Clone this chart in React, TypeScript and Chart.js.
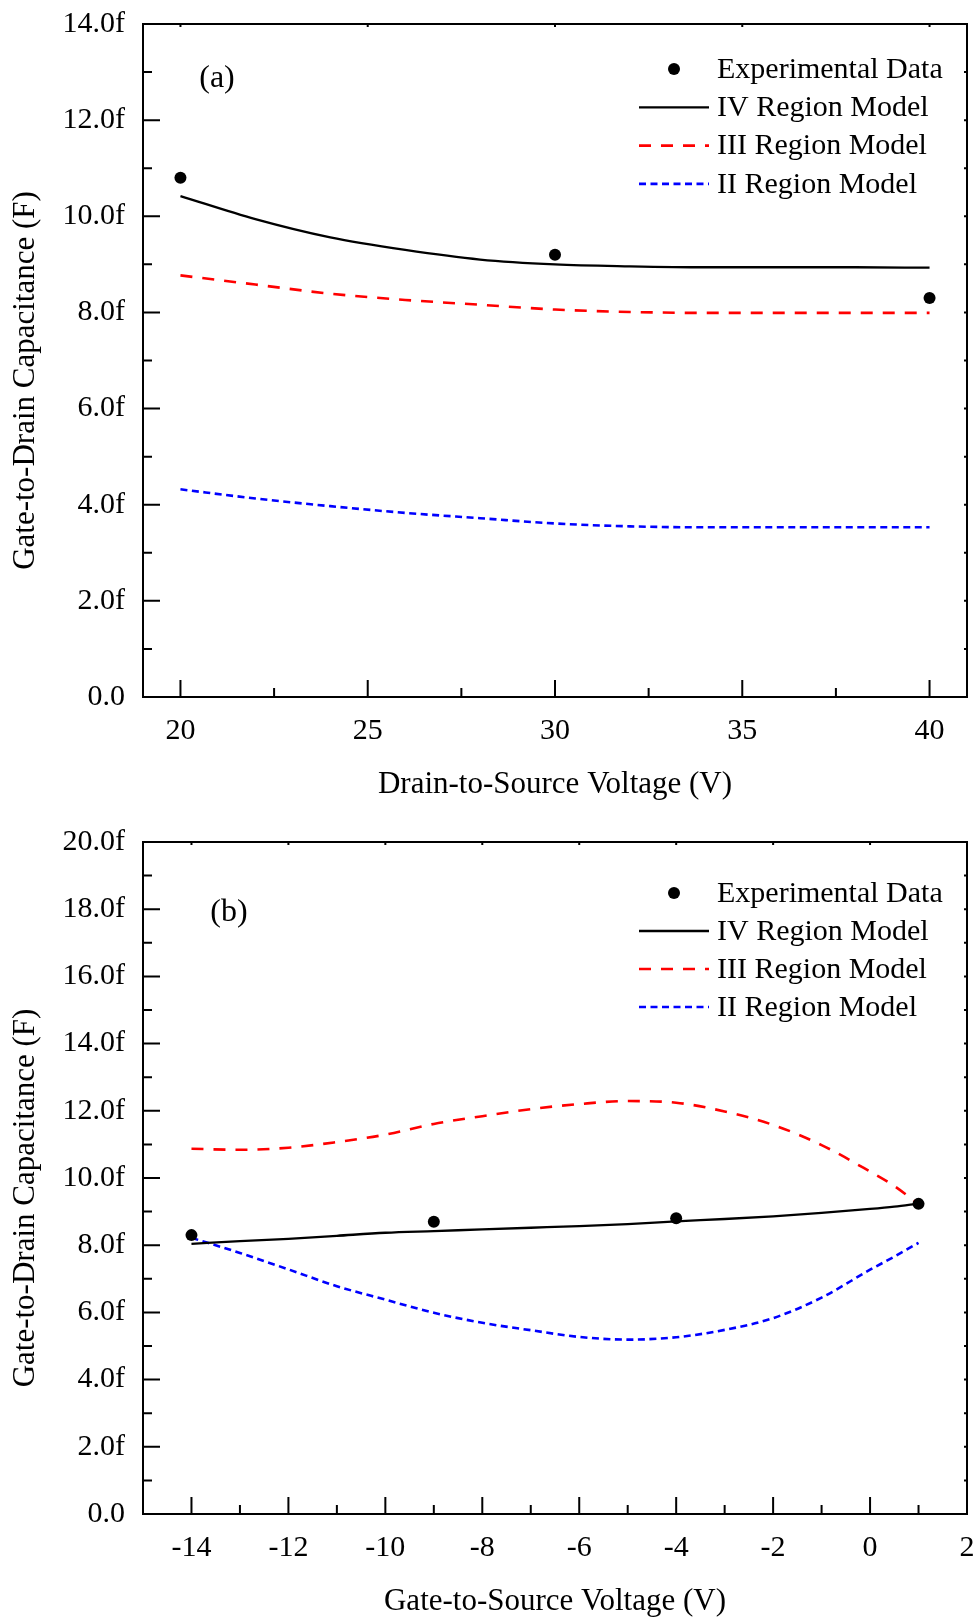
import React, { useEffect, useRef } from "react";
import { Chart, registerables } from "chart.js";

Chart.register(...registerables);

const FONT = '"Liberation Serif", "Times New Roman", Times, serif';

// ---------------- Panel (a): Cgd vs Vds ----------------
const A_VDS_EXP = [20, 30, 40];
const A_CGD_EXP = [10.8, 9.2, 8.3];
const A_VDS_MODEL = [20, 22, 24, 26, 28, 30, 32, 34, 36, 38, 40];
const A_CGD_IV = [10.42, 9.94, 9.56, 9.3, 9.1, 9.0, 8.96, 8.94, 8.94, 8.94, 8.93];
const A_CGD_III = [8.77, 8.58, 8.39, 8.26, 8.16, 8.06, 8.01, 7.99, 7.99, 7.99, 7.99];
const A_CGD_II = [4.32, 4.13, 3.97, 3.83, 3.72, 3.61, 3.55, 3.53, 3.53, 3.53, 3.53];
const A_X_TICKS = [20, 25, 30, 35, 40];
const A_X_MINOR = [22.5, 27.5, 32.5, 37.5];
const A_Y_TICKS = [0, 2, 4, 6, 8, 10, 12, 14];
const A_Y_LABELS = ["0.0", "2.0f", "4.0f", "6.0f", "8.0f", "10.0f", "12.0f", "14.0f"];
const A_Y_MINOR = [1, 3, 5, 7, 9, 11, 13];

// ---------------- Panel (b): Cgd vs Vgs ----------------
const B_VGS_EXP = [-14, -9, -4, 1];
const B_CGD_EXP = [8.3, 8.7, 8.8, 9.23];
const B_VGS_MODEL = [-14, -13, -12, -11, -10, -9, -8, -7, -6, -5, -4, -3, -2, -1, 0, 0.5, 1];
const B_CGD_IV = [8.04, 8.12, 8.19, 8.28, 8.37, 8.42, 8.47, 8.52, 8.57, 8.63, 8.71, 8.78, 8.86, 8.96, 9.08, 9.15, 9.24];
const B_CGD_III = [10.87, 10.84, 10.9, 11.07, 11.29, 11.61, 11.84, 12.05, 12.2, 12.29, 12.24, 11.98, 11.58, 10.98, 10.19, 9.76, 9.22];
const B_CGD_II = [8.22, 7.77, 7.28, 6.78, 6.38, 5.99, 5.69, 5.47, 5.27, 5.19, 5.26, 5.48, 5.83, 6.44, 7.27, 7.66, 8.07];
const B_X_TICKS = [-14, -12, -10, -8, -6, -4, -2, 0, 2];
const B_X_MINOR = [-15, -13, -11, -9, -7, -5, -3, -1, 1];
const B_Y_TICKS = [0, 2, 4, 6, 8, 10, 12, 14, 16, 18, 20];
const B_Y_LABELS = ["0.0", "2.0f", "4.0f", "6.0f", "8.0f", "10.0f", "12.0f", "14.0f", "16.0f", "18.0f", "20.0f"];
const B_Y_MINOR = [1, 3, 5, 7, 9, 11, 13, 15, 17, 19];

const SERIES_NAMES = ["Experimental Data", "IV Region Model", "III Region Model", "II Region Model"];

const zip = (xs: number[], ys: number[]) => xs.map((x, i) => ({ x, y: ys[i] }));

const framePlugin = {
  id: "frameDecor",
  afterDatasetsDraw(chart: any, _args: any, opts: any) {
    const { ctx, chartArea: a, scales } = chart;
    const xs = scales.x;
    const ys = scales.y;
    ctx.save();
    ctx.strokeStyle = "#000";
    ctx.lineWidth = 2;
    ctx.beginPath();
    const major = 17;
    const minor = 9;
    const mirror = 3;
    (opts.xMajor || []).forEach((v: number) => {
      const p = xs.getPixelForValue(v);
      ctx.moveTo(p, a.bottom);
      ctx.lineTo(p, a.bottom - major);
      ctx.moveTo(p, a.top);
      ctx.lineTo(p, a.top + mirror);
    });
    (opts.xMinor || []).forEach((v: number) => {
      const p = xs.getPixelForValue(v);
      ctx.moveTo(p, a.bottom);
      ctx.lineTo(p, a.bottom - minor);
    });
    (opts.yMajor || []).forEach((v: number) => {
      const p = ys.getPixelForValue(v);
      ctx.moveTo(a.left, p);
      ctx.lineTo(a.left + major, p);
      ctx.moveTo(a.right, p);
      ctx.lineTo(a.right - mirror, p);
    });
    (opts.yMinor || []).forEach((v: number) => {
      const p = ys.getPixelForValue(v);
      ctx.moveTo(a.left, p);
      ctx.lineTo(a.left + minor, p);
      ctx.moveTo(a.right, p);
      ctx.lineTo(a.right - mirror, p);
    });
    ctx.stroke();
    ctx.lineWidth = 2;
    ctx.strokeRect(a.left, a.top, a.right - a.left, a.bottom - a.top);

    // legend
    const lg = opts.legend;
    ctx.font = `30px ${FONT}`;
    ctx.fillStyle = "#000";
    ctx.textBaseline = "middle";
    ctx.textAlign = "left";
    chart.data.datasets.forEach((ds: any, i: number) => {
      const yy = a.top + lg.top + i * lg.gap;
      if (ds.showLine === false) {
        ctx.beginPath();
        ctx.fillStyle = ds.backgroundColor;
        ctx.arc((lg.x0 + lg.x1) / 2, yy, ds.pointRadius, 0, Math.PI * 2);
        ctx.fill();
      } else {
        ctx.beginPath();
        ctx.strokeStyle = ds.borderColor;
        ctx.lineWidth = ds.borderWidth;
        ctx.setLineDash(ds.borderDash || []);
        ctx.moveTo(lg.x0, yy);
        ctx.lineTo(lg.x1, yy);
        ctx.stroke();
        ctx.setLineDash([]);
      }
      ctx.fillStyle = "#000";
      ctx.fillText(ds.label, lg.textX, yy + 1);
    });

    // panel label
    ctx.textAlign = "center";
    ctx.font = `32px ${FONT}`;
    ctx.fillText(opts.panel.text, opts.panel.x, a.top + opts.panel.dy);

    // axis titles
    ctx.font = `31px ${FONT}`;
    ctx.fillText(opts.xTitle, (a.left + a.right) / 2, a.bottom + opts.xTitleDy);
    ctx.save();
    ctx.translate(opts.yTitleX, (a.top + a.bottom) / 2 + opts.yTitleDy);
    ctx.rotate(-Math.PI / 2);
    ctx.fillText(opts.yTitle, 0, 0);
    ctx.restore();
    ctx.restore();
  },
};

type PanelCfg = {
  width: number;
  height: number;
  top: number;
  bottom: number;
  left: number;
  right: number;
  xMin: number;
  xMax: number;
  yMin: number;
  yMax: number;
  xTicks: number[];
  xMinor: number[];
  yTicks: number[];
  yLabels: string[];
  yMinor: number[];
  expX: number[];
  expY: number[];
  modX: number[];
  iv: number[];
  iii: number[];
  ii: number[];
  xTitle: string;
  yTitle: string;
  panel: { text: string; x: number; dy: number };
  legendTop: number;
  legendGap: number;
};

function Panel({ cfg }: { cfg: PanelCfg }) {
  const ref = useRef<HTMLCanvasElement | null>(null);
  useEffect(() => {
    if (!ref.current) return;
    const bottomBox = cfg.height - cfg.bottom;
    const chart = new Chart(ref.current, {
      type: "scatter",
      data: {
        datasets: [
          {
            label: SERIES_NAMES[0],
            data: zip(cfg.expX, cfg.expY),
            showLine: false,
            pointRadius: 6,
            pointBackgroundColor: "#000",
            backgroundColor: "#000",
            borderColor: "#000",
            pointBorderWidth: 0,
          },
          {
            label: SERIES_NAMES[1],
            data: zip(cfg.modX, cfg.iv),
            showLine: true,
            pointRadius: 0,
            borderColor: "#000",
            backgroundColor: "#000",
            borderWidth: 2.3,
            cubicInterpolationMode: "monotone",
          },
          {
            label: SERIES_NAMES[2],
            data: zip(cfg.modX, cfg.iii),
            showLine: true,
            pointRadius: 0,
            borderColor: "#ff0000",
            backgroundColor: "#ff0000",
            borderWidth: 2.6,
            borderDash: [12, 10],
            cubicInterpolationMode: "monotone",
          },
          {
            label: SERIES_NAMES[3],
            data: zip(cfg.modX, cfg.ii),
            showLine: true,
            pointRadius: 0,
            borderColor: "#0000ff",
            backgroundColor: "#0000ff",
            borderWidth: 2.6,
            borderDash: [7, 4.5],
            cubicInterpolationMode: "monotone",
          },
        ],
      },
      options: {
        responsive: false,
        maintainAspectRatio: false,
        animation: false,
        devicePixelRatio: 1,
        layout: { padding: { left: 0, top: cfg.top, right: cfg.width - cfg.right, bottom: 0 } },
        plugins: {
          legend: { display: false },
          tooltip: { enabled: false },
          frameDecor: {
            xMajor: cfg.xTicks,
            xMinor: cfg.xMinor,
            yMajor: cfg.yTicks,
            yMinor: cfg.yMinor,
            legend: { x0: 639, x1: 709, textX: 717, top: cfg.legendTop, gap: cfg.legendGap },
            panel: cfg.panel,
            xTitle: cfg.xTitle,
            yTitle: cfg.yTitle,
            xTitleDy: 88,
            yTitleX: 26,
            yTitleDy: 20,
          },
        } as any,
        scales: {
          x: {
            type: "linear",
            min: cfg.xMin,
            max: cfg.xMax,
            grid: { display: false, drawTicks: false },
            border: { display: false },
            afterBuildTicks: (s: any) => {
              s.ticks = cfg.xTicks.map((v) => ({ value: v }));
            },
            afterFit: (s: any) => {
              s.height = bottomBox;
              s.paddingLeft = 0;
              s.paddingRight = 0;
            },
            ticks: {
              color: "#000",
              font: { family: FONT, size: 30 },
              padding: 16,
              maxRotation: 0,
              autoSkip: false,
              callback: (v: any) => String(v),
            },
          },
          y: {
            type: "linear",
            min: cfg.yMin,
            max: cfg.yMax,
            grid: { display: false, drawTicks: false },
            border: { display: false },
            afterBuildTicks: (s: any) => {
              s.ticks = cfg.yTicks.map((v) => ({ value: v }));
            },
            afterFit: (s: any) => {
              s.width = cfg.left;
              s.paddingTop = 0;
              s.paddingBottom = 0;
            },
            ticks: {
              color: "#000",
              font: { family: FONT, size: 30 },
              padding: 18,
              autoSkip: false,
              callback: (v: any) => {
                const i = cfg.yTicks.indexOf(Number(v));
                return i >= 0 ? cfg.yLabels[i] : "";
              },
            },
          },
        },
      },
      plugins: [framePlugin],
    });
    return () => chart.destroy();
  }, [cfg]);
  return <canvas ref={ref} width={cfg.width} height={cfg.height} style={{ display: "block" }} />;
}

const PANEL_A: PanelCfg = {
  width: 978,
  height: 810,
  top: 24,
  bottom: 697,
  left: 143,
  right: 967,
  xMin: 19,
  xMax: 41,
  yMin: 0,
  yMax: 14,
  xTicks: A_X_TICKS,
  xMinor: A_X_MINOR,
  yTicks: A_Y_TICKS,
  yLabels: A_Y_LABELS,
  yMinor: A_Y_MINOR,
  expX: A_VDS_EXP,
  expY: A_CGD_EXP,
  modX: A_VDS_MODEL,
  iv: A_CGD_IV,
  iii: A_CGD_III,
  ii: A_CGD_II,
  xTitle: "Drain-to-Source Voltage (V)",
  yTitle: "Gate-to-Drain Capacitance (F)",
  panel: { text: "(a)", x: 217, dy: 55 },
  legendTop: 45,
  legendGap: 38.3,
};

const PANEL_B: PanelCfg = {
  width: 978,
  height: 810,
  top: 32,
  bottom: 704,
  left: 143,
  right: 967,
  xMin: -15,
  xMax: 2,
  yMin: 0,
  yMax: 20,
  xTicks: B_X_TICKS,
  xMinor: B_X_MINOR,
  yTicks: B_Y_TICKS,
  yLabels: B_Y_LABELS,
  yMinor: B_Y_MINOR,
  expX: B_VGS_EXP,
  expY: B_CGD_EXP,
  modX: B_VGS_MODEL,
  iv: B_CGD_IV,
  iii: B_CGD_III,
  ii: B_CGD_II,
  xTitle: "Gate-to-Source Voltage (V)",
  yTitle: "Gate-to-Drain Capacitance (F)",
  panel: { text: "(b)", x: 229, dy: 71 },
  legendTop: 51,
  legendGap: 38,
};

export default function App() {
  return (
    <div style={{ position: "absolute", left: 0, top: 0, width: 978, height: 1620, background: "#fff" }}>
      <Panel cfg={PANEL_A} />
      <Panel cfg={PANEL_B} />
    </div>
  );
}
